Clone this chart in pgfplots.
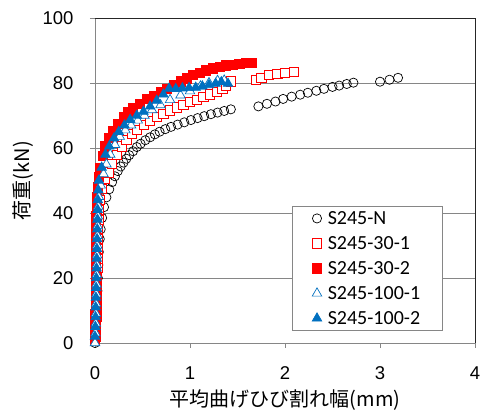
\documentclass[border=0pt]{standalone}
\usepackage{fontspec}
\setmainfont{Liberation Sans}
\newfontfamily\legfont{Carlito}
\newfontfamily\jp{Noto Sans CJK JP}
\usepackage{pgfplots}
\pgfplotsset{compat=1.18}
\definecolor{xlblue}{RGB}{0,112,192}
\definecolor{axgray}{RGB}{134,134,134}

\begin{document}
\begin{tikzpicture}
\path[use as bounding box] (-95pt,-71pt) rectangle (386pt,343pt);
\begin{axis}[
  at={(0,0)}, anchor=south west,
  scale only axis, width=380pt, height=325pt,
  xmin=0, xmax=4, ymin=0, ymax=100,
  xtick={0,1,2,3,4}, ytick={0,20,40,60,80,100},
  tick pos=left, tick align=outside,
  major tick length=5pt,
  tick style={axgray, line width=0.8pt},
  axis line style={axgray, line width=0.8pt},
  ymajorgrids, grid style={axgray, line width=0.8pt},
  /pgf/number format/assume math mode=true,
  ticklabel style={font=\fontsize{18.5}{20}\selectfont},
  yticklabel style={xshift=-13pt},
  xticklabel style={yshift=-15pt},
  xlabel={\jp 平均曲げひび割れ幅(mm)},
  ylabel={\jp 荷重(kN)},
  label style={font=\fontsize{20}{22}\selectfont},
  xlabel style={at={(axis description cs:0.5,-0.175)}, anchor=center},
  ylabel style={at={(axis description cs:-0.19,0.5)}, anchor=center},
  clip=false,
  legend cell align=left,
  legend style={at={(axis description cs:0.518,0.037)}, anchor=south west,
    draw=axgray, line width=0.8pt, font=\legfont\fontsize{20}{22}\selectfont,
    row sep=6.5pt, column sep=4pt, inner xsep=20pt, inner ysep=3pt},
]
\addplot[only marks, mark=o, mark size=4.6pt, mark options={draw=black, fill=white, line width=0.7pt}] coordinates {
(0,0) (0.01,4) (0.015,8) (0.02,12) (0.025,16) (0.03,20) (0.035,24) (0.04,28) (0.05,32) (0.06,35)
(0.075,38.5) (0.095,41.8) (0.12,44.8) (0.15,47.3) (0.18,49.5) (0.21,51.3) (0.24,52.9) (0.27,54.3)
(0.30,55.5) (0.33,56.7) (0.36,57.8) (0.40,59) (0.44,60.3) (0.48,61.3) (0.53,62.4) (0.58,63.3)
(0.63,64.2) (0.68,65) (0.74,65.8) (0.80,66.5) (0.87,67.2) (0.94,67.9) (1.01,68.6) (1.08,69.2)
(1.15,69.8) (1.22,70.4) (1.29,70.9) (1.36,71.4) (1.43,71.9) (1.72,72.8) (1.81,73.6) (1.90,74.3)
(1.98,75.1) (2.07,75.8) (2.16,76.4) (2.24,77) (2.33,77.6) (2.41,78.2) (2.50,78.8) (2.57,79.2)
(2.65,79.7) (2.72,80.1) (3.00,80.4) (3.10,81) (3.19,81.6)
};
\addlegendentry{\makebox[92pt][l]{S245-N}}
\addplot[only marks, mark=square*, mark size=4.6pt, mark options={draw=red, fill=white, line width=0.7pt}] coordinates {
(0.01,2) (0.012,5) (0.014,8) (0.016,11) (0.018,14) (0.02,17) (0.022,20) (0.024,23) (0.026,26)
(0.028,29) (0.03,32) (0.032,35) (0.035,38) (0.04,41) (0.05,44) (0.07,47.5) (0.10,50.5) (0.14,52.5)
(0.18,55) (0.23,58) (0.28,60.5) (0.33,62.5) (0.39,64.3) (0.44,65.5) (0.51,67) (0.58,68.3) (0.65,69.5)
(0.72,70.6) (0.79,71.6) (0.86,72.5) (0.93,73.3) (1.00,74.1) (1.07,74.9) (1.14,75.7) (1.21,76.5)
(1.28,77.3) (1.34,78.3) (1.38,79.3) (1.43,80.5) (1.69,81) (1.75,81.6) (1.83,82.4) (1.92,82.8)
(2.00,83.1) (2.09,83.4)
};
\addlegendentry{S245-30-1}
\addplot[only marks, mark=square*, mark size=4.6pt, mark options={draw=red, fill=red, line width=0.7pt}] coordinates {
(0.00,1) (0.002,3) (0.003,6) (0.004,9) (0.005,12) (0.006,15) (0.007,18) (0.008,21) (0.009,24)
(0.010,27) (0.011,30) (0.012,33) (0.013,36) (0.014,39) (0.016,42) (0.02,45) (0.03,48) (0.04,51)
(0.05,54) (0.08,57.5) (0.11,60.5) (0.15,63) (0.19,65.3) (0.24,67.5) (0.30,69.5) (0.35,71) (0.40,72.2)
(0.47,73.7) (0.55,75) (0.62,76.1) (0.69,77.2) (0.76,78.3) (0.83,79.5) (0.90,80.5) (0.97,81.4)
(1.03,82.4) (1.10,83.2) (1.17,83.9) (1.24,84.5) (1.31,85) (1.38,85.4) (1.45,85.7) (1.52,85.9)
(1.59,86.1) (1.65,86.2)
};
\addlegendentry{S245-30-2}
\addplot[only marks, mark=triangle*, mark size=5.5pt, mark options={draw=xlblue, fill=white, line width=0.7pt}] coordinates {
(0.0,0) (0.005,3) (0.008,6) (0.01,9) (0.012,12) (0.014,15) (0.016,18) (0.018,21) (0.02,24)
(0.022,27) (0.024,30) (0.026,33) (0.028,36) (0.03,39) (0.035,42) (0.04,45) (0.06,48.5) (0.09,52)
(0.12,55) (0.16,58) (0.21,61) (0.26,63.5) (0.32,65.5) (0.38,67) (0.45,68.5) (0.52,70) (0.60,71.7)
(0.69,73.2) (0.79,74.8) (0.90,76.2) (1.00,77.5) (1.11,79) (1.20,80) (1.29,80.7) (1.36,80.8)
};
\addlegendentry{S245-100-1}
\addplot[only marks, mark=triangle*, mark size=5.5pt, mark options={draw=xlblue, fill=xlblue, line width=0.7pt}] coordinates {
(0.0,2) (0.004,5) (0.006,8) (0.008,11) (0.01,14) (0.012,17) (0.014,20) (0.016,23) (0.018,26)
(0.02,29) (0.022,32) (0.024,35) (0.026,38) (0.028,41) (0.03,44) (0.035,47) (0.04,50) (0.07,54)
(0.11,58) (0.15,60.5) (0.20,63) (0.25,65) (0.31,67) (0.37,68.7) (0.44,70) (0.51,71.2) (0.58,72.8)
(0.65,74.6) (0.72,76.5) (0.78,78.3) (0.85,78.2) (0.92,78.4) (0.99,78.5) (1.06,78.6) (1.13,79)
(1.20,79.4) (1.27,79.8) (1.33,80.3) (1.40,79.8)
};
\addlegendentry{S245-100-2}
\draw[black!85, line width=0.8pt] (rel axis cs:0,1) -- (rel axis cs:1,1) -- (rel axis cs:1,0);
\end{axis}
\end{tikzpicture}
\end{document}
